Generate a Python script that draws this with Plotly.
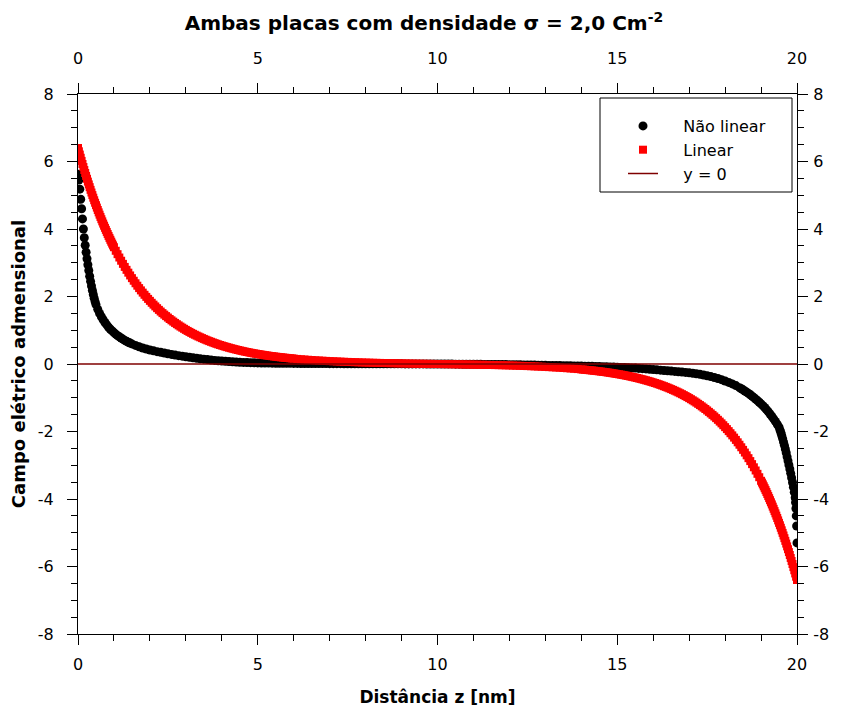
import plotly.graph_objects as go


def grid(start, step, n):
    return [round(start + step * i, 3) for i in range(n)]


# ---------------- data ----------------
# Non-linear solution (black dots)
nl_x_a = grid(0.0, 0.025, 21)        # 0.000 .. 0.500
nl_y_a = [5.62, 5.45, 5.18, 4.88, 4.60, 4.30, 4.00, 3.74, 3.52, 3.31, 3.12,
          2.94, 2.77, 2.60, 2.45, 2.31, 2.18, 2.06, 1.95, 1.85, 1.76]

nl_x_b = grid(0.55, 0.05, 20)        # 0.55 .. 1.50
nl_y_b = [1.62, 1.50, 1.40, 1.31, 1.23, 1.16, 1.09, 1.03, 0.98, 0.93,
          0.885, 0.84, 0.805, 0.77, 0.735, 0.70, 0.672, 0.645, 0.62, 0.595]

nl_x_c = grid(1.6, 0.1, 169)         # 1.6 .. 18.4
nl_y_c = [0.55, 0.51, 0.475, 0.445, 0.415,
          0.39, 0.365, 0.345, 0.325, 0.305, 0.285, 0.265, 0.248, 0.232, 0.216,
          0.200, 0.185, 0.170, 0.156, 0.143, 0.130, 0.118, 0.107, 0.097, 0.088,
          0.080, 0.072, 0.065, 0.059, 0.053, 0.048, 0.044, 0.040, 0.036, 0.033,
          0.031, 0.029, 0.027, 0.025, 0.023, 0.022, 0.021, 0.020, 0.019, 0.018,
          0.017, 0.016, 0.015, 0.015, 0.014, 0.013, 0.013, 0.012, 0.012, 0.011,
          0.010, 0.010, 0.010, 0.009, 0.009, 0.008, 0.008, 0.008, 0.007, 0.007,
          0.007, 0.006, 0.006, 0.006, 0.005, 0.005, 0.005, 0.004, 0.004, 0.004,
          0.003, 0.003, 0.003, 0.002, 0.002, 0.002, 0.001, 0.001, 0.000, 0.000,
          -0.001, -0.002, -0.003, -0.003, -0.004, -0.005, -0.006, -0.007, -0.008, -0.009,
          -0.010, -0.011, -0.012, -0.013, -0.014, -0.015, -0.016, -0.017, -0.018, -0.020,
          -0.021, -0.023, -0.025, -0.027, -0.029, -0.031, -0.033, -0.035, -0.037, -0.040,
          -0.042, -0.044, -0.046, -0.048, -0.050, -0.052, -0.054, -0.056, -0.058, -0.060,
          -0.063, -0.066, -0.069, -0.072, -0.075, -0.079, -0.083, -0.087, -0.091, -0.095,
          -0.100, -0.105, -0.110, -0.116, -0.122, -0.130, -0.138, -0.146, -0.155, -0.165,
          -0.174, -0.183, -0.192, -0.201, -0.210, -0.219, -0.228, -0.238, -0.249, -0.260,
          -0.275, -0.290, -0.307, -0.326, -0.347, -0.372, -0.400, -0.430, -0.465, -0.505,
          -0.545, -0.590, -0.640, -0.700]

nl_x_d = grid(18.45, 0.05, 22)       # 18.45 .. 19.50
nl_y_d = [-0.732, -0.765, -0.800, -0.835, -0.872, -0.910, -0.952, -0.995, -1.040, -1.085,
          -1.132, -1.180, -1.235, -1.290, -1.350, -1.410, -1.480, -1.550, -1.625, -1.700,
          -1.785, -1.870]

nl_x_e = [19.525, 19.55, 19.575, 19.6, 19.625, 19.65, 19.675, 19.7, 19.725, 19.75,
          19.775, 19.8, 19.825, 19.85, 19.875, 19.9, 19.925, 19.95,
          19.96, 19.97, 19.98, 19.99, 20.0]
nl_y_e = [-1.95, -2.03, -2.12, -2.21, -2.31, -2.41, -2.52, -2.63, -2.75, -2.87,
          -2.99, -3.11, -3.24, -3.37, -3.51, -3.65, -3.80, -3.96,
          -4.10, -4.28, -4.50, -4.80, -5.30]

# Linear solution (red squares)
lin_x_a = grid(0.0, 0.025, 41)       # 0.000 .. 1.000
lin_y_a = [6.400, 6.302, 6.206, 6.111, 6.018, 5.926, 5.836, 5.747, 5.659, 5.573,
           5.488, 5.404, 5.321, 5.240, 5.160, 5.081, 5.004, 4.928, 4.852, 4.778,
           4.706, 4.634, 4.563, 4.493, 4.425, 4.358, 4.291, 4.226, 4.161, 4.098,
           4.035, 3.974, 3.913, 3.853, 3.794, 3.736, 3.680, 3.624, 3.568, 3.514, 3.460]

lin_x_b = grid(1.05, 0.05, 100)      # 1.05 .. 6.00
lin_y_b = [3.355, 3.254, 3.155, 3.060, 2.967, 2.877, 2.790, 2.706, 2.624, 2.544,
           2.467, 2.392, 2.320, 2.249, 2.181, 2.115, 2.051, 1.989, 1.929, 1.871,
           1.814, 1.759, 1.706, 1.654, 1.604, 1.555, 1.508, 1.463, 1.419, 1.376,
           1.334, 1.294, 1.255, 1.217, 1.180, 1.144, 1.109, 1.076, 1.043, 1.011,
           0.980, 0.951, 0.922, 0.894, 0.867, 0.841, 0.815, 0.791, 0.767, 0.744,
           0.721, 0.699, 0.678, 0.658, 0.638, 0.618, 0.599, 0.581, 0.564, 0.547,
           0.530, 0.514, 0.499, 0.484, 0.469, 0.455, 0.441, 0.428, 0.415, 0.402,
           0.390, 0.378, 0.366, 0.355, 0.345, 0.334, 0.324, 0.314, 0.305, 0.296,
           0.287, 0.278, 0.270, 0.261, 0.253, 0.246, 0.238, 0.231, 0.224, 0.217,
           0.211, 0.204, 0.198, 0.192, 0.186, 0.181, 0.175, 0.170, 0.165, 0.160]

lin_x_c = grid(6.1, 0.1, 79)         # 6.1 .. 13.9
lin_y_c = [0.150, 0.141, 0.133, 0.125, 0.118, 0.110, 0.104, 0.098, 0.092, 0.086,
           0.081, 0.076, 0.071, 0.066, 0.062, 0.058, 0.054, 0.050, 0.046, 0.043,
           0.040, 0.037, 0.034, 0.032, 0.029, 0.027, 0.025, 0.022, 0.020, 0.018,
           0.016, 0.014, 0.012, 0.010, 0.008, 0.007, 0.005, 0.004, 0.002, 0.000,
           -0.002, -0.004, -0.005, -0.007, -0.008, -0.010, -0.012, -0.014, -0.016, -0.018,
           -0.020, -0.022, -0.025, -0.027, -0.029, -0.032, -0.034, -0.037, -0.040, -0.043,
           -0.046, -0.050, -0.054, -0.058, -0.062, -0.066, -0.071, -0.076, -0.081, -0.086,
           -0.092, -0.098, -0.104, -0.110, -0.118, -0.125, -0.133, -0.141, -0.150]

lin_x_d = grid(14.0, 0.05, 100)      # 14.00 .. 18.95
lin_y_d = [-0.160, -0.165, -0.170, -0.175, -0.181, -0.186, -0.192, -0.198, -0.204, -0.211,
           -0.217, -0.224, -0.231, -0.238, -0.246, -0.253, -0.261, -0.270, -0.278, -0.287,
           -0.296, -0.305, -0.314, -0.324, -0.334, -0.345, -0.355, -0.366, -0.378, -0.390,
           -0.402, -0.415, -0.428, -0.441, -0.455, -0.469, -0.484, -0.499, -0.514, -0.530,
           -0.547, -0.564, -0.581, -0.599, -0.618, -0.638, -0.658, -0.678, -0.699, -0.721,
           -0.744, -0.767, -0.791, -0.815, -0.841, -0.867, -0.894, -0.922, -0.951, -0.980,
           -1.011, -1.043, -1.076, -1.109, -1.144, -1.180, -1.217, -1.255, -1.294, -1.334,
           -1.376, -1.419, -1.463, -1.508, -1.555, -1.604, -1.654, -1.706, -1.759, -1.814,
           -1.871, -1.929, -1.989, -2.051, -2.115, -2.181, -2.249, -2.320, -2.392, -2.467,
           -2.544, -2.624, -2.706, -2.790, -2.877, -2.967, -3.060, -3.155, -3.254, -3.355]

lin_x_e = grid(19.0, 0.025, 41)      # 19.000 .. 20.000
lin_y_e = [-3.460, -3.514, -3.568, -3.624, -3.680, -3.736, -3.794, -3.853, -3.913, -3.974,
           -4.035, -4.098, -4.161, -4.226, -4.291, -4.358, -4.425, -4.493, -4.563, -4.634,
           -4.706, -4.778, -4.852, -4.928, -5.004, -5.081, -5.160, -5.240, -5.321, -5.404,
           -5.488, -5.573, -5.659, -5.747, -5.836, -5.926, -6.018, -6.111, -6.206, -6.302, -6.400]

zero_x = [0, 20]
zero_y = [0, 0]

x_ticks = [0, 5, 10, 15, 20]
x_ticktext = ["0", "5", "10", "15", "20"]
y_ticks = [-8, -6, -4, -2, 0, 2, 4, 6, 8]
y_ticktext = ["-8", "-6", "-4", "-2", "0", "2", "4", "6", "8"]

nl_x = nl_x_a + nl_x_b + nl_x_c + nl_x_d + nl_x_e
nl_y = nl_y_a + nl_y_b + nl_y_c + nl_y_d + nl_y_e
lin_x = lin_x_a + lin_x_b + lin_x_c + lin_x_d + lin_x_e
lin_y = lin_y_a + lin_y_b + lin_y_c + lin_y_d + lin_y_e
assert len(nl_x) == len(nl_y) and len(lin_x) == len(lin_y)

# ---------------- figure ----------------
FONT = "DejaVu Sans"
PAD = "\u00a0\u00a0\u00a0\u00a0"
fig = go.Figure()

fig.add_trace(go.Scatter(
    x=nl_x, y=nl_y, mode="markers", name=PAD + "Não linear",
    marker=dict(symbol="circle", size=9, color="black", line=dict(width=0))))

fig.add_trace(go.Scatter(
    x=lin_x, y=lin_y, mode="markers", name=PAD + "Linear",
    marker=dict(symbol="square", size=8, color="#ff0000", line=dict(width=0))))

fig.add_trace(go.Scatter(
    x=zero_x, y=zero_y, mode="lines", name=PAD + "y = 0",
    line=dict(color="#7f0000", width=1.5)))

# dummy trace to activate the top / right axes
fig.add_trace(go.Scatter(
    x=[10], y=[0], xaxis="x2", yaxis="y2", mode="markers",
    marker=dict(opacity=0), showlegend=False, hoverinfo="skip"))

axis_common = dict(
    showgrid=False, zeroline=False, showline=True, linecolor="black", linewidth=1,
    ticks="outside", ticklen=10, tickwidth=1, tickcolor="black", automargin=False,
    tickfont=dict(family=FONT, size=16, color="black"),
)
xminor = dict(dtick=1, tick0=0, ticks="outside", ticklen=6, tickcolor="black")
yminor = dict(dtick=0.5, tick0=0, ticks="outside", ticklen=6, tickcolor="black")


# plot area: x 78..797 px, y 94..634 px
def px_x(p):
    return (p - 78) / 719


def px_y(p):
    return (634 - p) / 540


fig.update_layout(
    width=848, height=713,
    margin=dict(l=78, r=51, t=94, b=79),
    paper_bgcolor="white", plot_bgcolor="white",
    font=dict(family=FONT, color="black"),
    showlegend=True,
    title=dict(text="<b>Ambas placas com densidade σ = 2,0 Cm<sup>-2</sup></b>",
               x=0.5, xanchor="center", y=1 - 23 / 713, yanchor="middle",
               font=dict(family=FONT, size=20, color="black")),
    xaxis=dict(range=[0, 20], tickvals=x_ticks, ticktext=x_ticktext, ticklabelstandoff=6,
               minor=xminor,
               title=dict(text="<b>Distância z [nm]</b>", font=dict(family=FONT, size=17),
                          standoff=17),
               **axis_common),
    xaxis2=dict(range=[0, 20], tickvals=x_ticks, ticktext=x_ticktext, overlaying="x",
                side="top", anchor="y", ticklabelstandoff=13, minor=xminor,
                **axis_common),
    yaxis=dict(range=[-8, 8], tickvals=y_ticks, ticktext=y_ticktext, ticklabelstandoff=10,
               minor=yminor,
               title=dict(text="<b>Campo elétrico admensional</b>",
                          font=dict(family=FONT, size=18), standoff=7),
               **axis_common),
    yaxis2=dict(range=[-8, 8], tickvals=y_ticks, ticktext=y_ticktext, overlaying="y",
                side="right", anchor="x", ticklabelstandoff=2, minor=yminor,
                **axis_common),
    legend=dict(x=px_x(623), y=px_y(109), xanchor="left", yanchor="top",
                bgcolor="rgba(0,0,0,0)", borderwidth=0,
                font=dict(family=FONT, size=16, color="black"),
                itemwidth=30, tracegroupgap=0),
    shapes=[dict(type="rect", xref="paper", yref="paper",
                 x0=px_x(600), x1=px_x(792), y0=px_y(192), y1=px_y(98),
                 line=dict(color="black", width=1), fillcolor="white", layer="above")],
)

fig.write_html("out.html")
